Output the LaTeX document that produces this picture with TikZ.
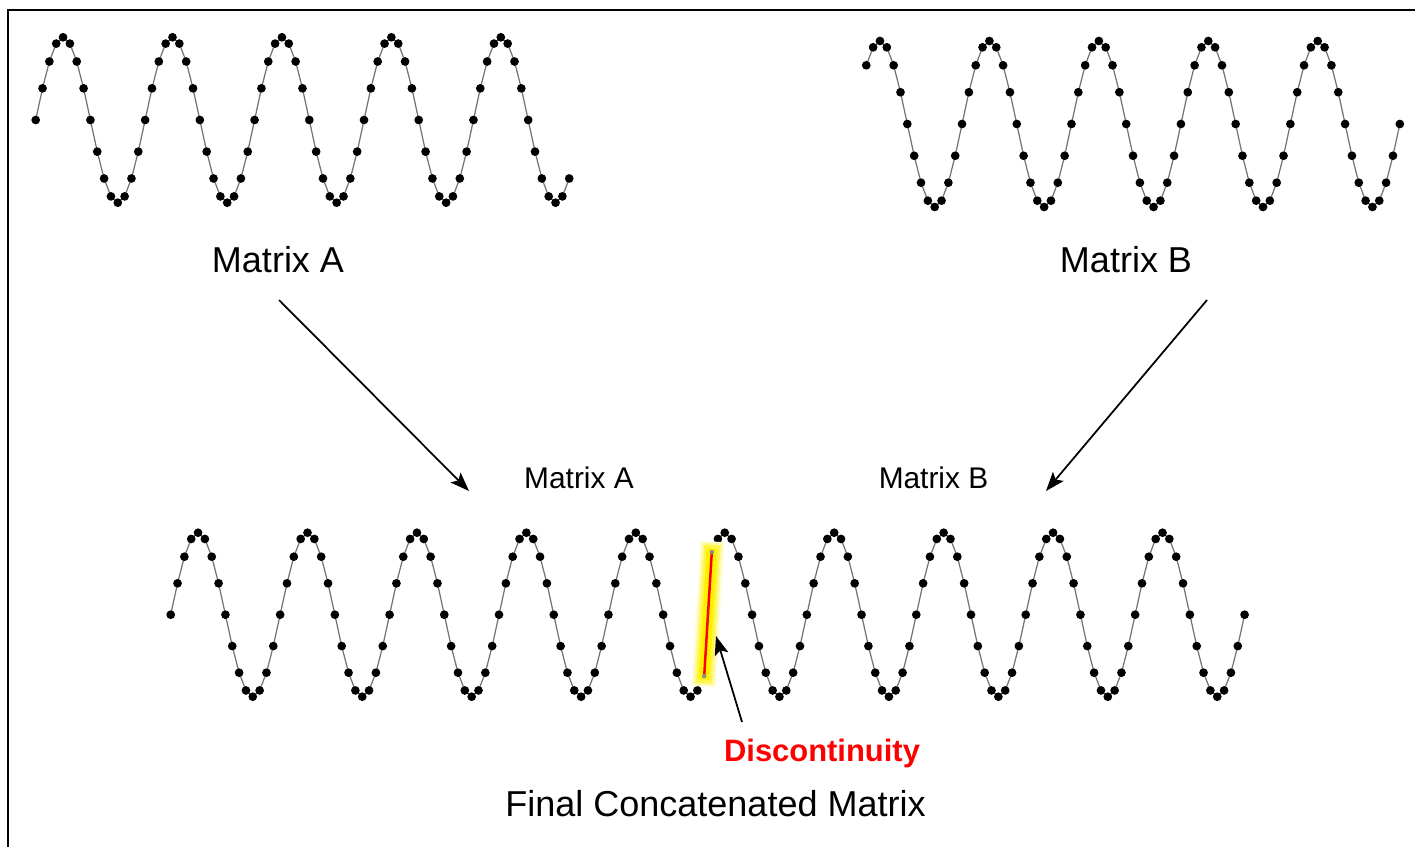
\documentclass[tikz,border=0pt]{standalone}
\usepackage{fontspec}
\setmainfont{Liberation Sans}
\usetikzlibrary{arrows.meta}
\begin{document}
\begin{tikzpicture}[x=0.02cm,y=-0.02cm,
  wave/.style={draw=black!55, line width=0.7pt, mark=*, mark size=2.1pt, mark options={draw=black, fill=black, solid}},
  biglabel/.style={font=\fontsize{20.5}{24}\selectfont, inner sep=0pt, anchor=base},
  smalllabel/.style={font=\fontsize{17}{20}\selectfont, inner sep=0pt, anchor=base},
  conn/.style={line width=1pt, -{Stealth[length=0.38cm,width=0.28cm,inset=0.08cm]}},
  frameline/.style={line width=0.04cm}
]
\useasboundingbox (0,0) rectangle (1415,847);
% partial frame
\draw[frameline] (8,847) -- (8,10) -- (1415,10);

% Matrix A (top left)
\draw[wave] plot[samples at={0,...,78}] ({35.7+6.84*\x},{120-82.7*sin(22.5*\x)});
% Matrix B (top right)
\draw[wave] plot[samples at={2,...,80}] ({852.6+6.84*\x},{124-83*sin(22.5*\x)});

% Concatenated
\draw[wave] plot[samples at={0,...,78}] ({170.7+6.84*\x},{614.7-82*sin(22.5*\x)});
\draw[wave] plot[samples at={79,...,157}] ({170.7+6.84*\x},{614.7-82*sin(22.5*\x+67.5)});

% discontinuity
\coordinate (dA) at (704.2,676);
\coordinate (dB) at (711.8,552);
\draw[yellow!18, line width=0.48cm, shorten <=-6, shorten >=-6] (dA) -- (dB);
\draw[yellow!40, line width=0.40cm, shorten <=-5, shorten >=-5] (dA) -- (dB);
\draw[yellow!70, line width=0.32cm, shorten <=-4, shorten >=-4] (dA) -- (dB);
\draw[yellow, line width=0.22cm, shorten <=-2, shorten >=-2] (dA) -- (dB);
\draw[red, line width=0.05cm] (dA) -- (dB);
\fill[black!45] (dA) circle (0.045cm);
\fill[black!45] (dB) circle (0.045cm);

% labels
\node[biglabel] (labA) at (278,273) {Matrix A};
\node[biglabel] (labB) at (1126,273) {Matrix B};
\node[smalllabel] (sA) at (579,488) {Matrix A};
\node[smalllabel] (sB) at (933.5,488) {Matrix B};
\node[font=\fontsize{17.6}{20}\selectfont\bfseries, text=red, inner sep=0pt, anchor=base] (disc) at (822,761) {Discontinuity};
\node[biglabel] (final) at (715.5,816) {Final Concatenated Matrix};

% arrows
\coordinate (a1) at (279,300);
\coordinate (a2) at (469,491);
\coordinate (b1) at (1207,300);
\coordinate (b2) at (1046,491);
\coordinate (c1) at (742,722);
\coordinate (c2) at (716,636);
\draw[conn] (a1) -- (a2);
\draw[conn] (b1) -- (b2);
\draw[conn] (c1) -- (c2);
\end{tikzpicture}
\end{document}
